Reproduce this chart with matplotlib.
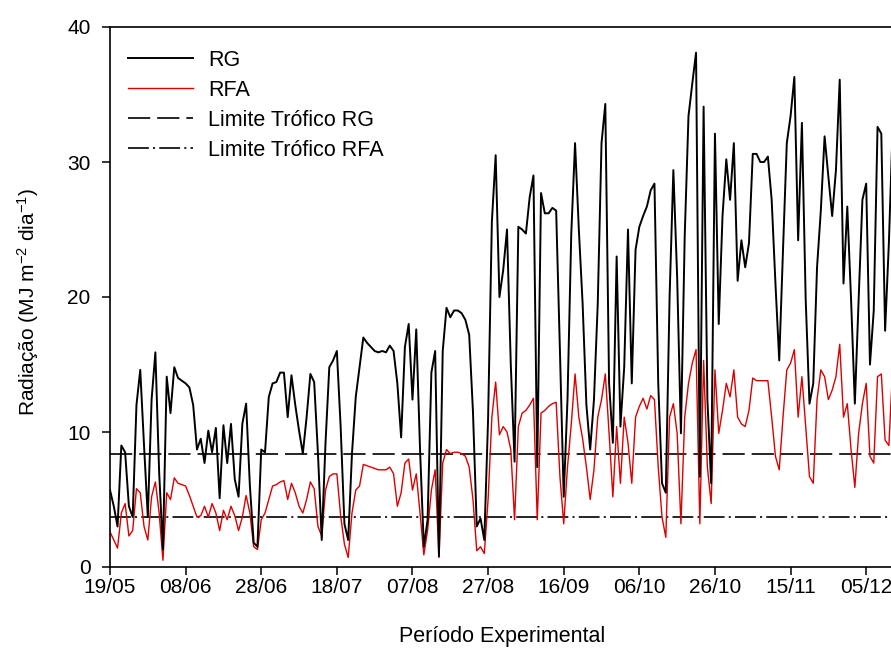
import matplotlib

matplotlib.use("Agg")
import matplotlib.pyplot as plt
import numpy as np

# daily values, day 0 = 19/05
rg = [
    5.7, 4.5, 3.0, 9.0, 8.5, 4.5, 3.7, 12.0, 14.6, 9.0,
    3.7, 12.4, 15.9, 7.0, 1.3, 14.1, 11.4, 14.8, 14.0, 13.8,
    13.6, 13.3, 12.0, 8.7, 9.5, 7.7, 10.1, 8.5, 10.3, 5.1,
    10.5, 7.7, 10.6, 6.5, 5.2, 10.6, 12.1, 6.0, 1.8, 1.5,
    8.7, 8.5, 12.6, 13.6, 13.7, 14.4, 14.4, 11.1, 14.2, 12.0,
    10.1, 8.4, 11.1, 14.3, 13.7, 8.4, 2.0, 9.2, 14.8, 15.3,
    16.0, 10.4, 3.2, 2.0, 8.4, 12.6, 14.8, 17.0, 16.6, 16.3,
    16.0, 15.9, 16.0, 15.9, 16.4, 16.0, 13.6, 9.6, 16.3, 18.0,
    12.4, 17.6, 8.7, 1.5, 3.5, 14.4, 16.0, 0.8, 16.0, 19.2,
    18.5, 19.0, 19.0, 18.8, 18.3, 17.2, 11.5, 3.0, 3.6, 2.0,
    11.0, 25.6, 30.5, 20.0, 22.0, 25.0, 15.0, 7.8, 25.2, 25.0,
    24.7, 27.4, 29.0, 7.4, 27.7, 26.2, 26.2, 26.6, 26.4, 16.0,
    5.2, 12.4, 24.7, 31.4, 25.0, 19.5, 12.0, 8.7, 12.4, 19.5,
    31.4, 34.3, 13.6, 9.2, 23.0, 10.4, 14.8, 25.0, 13.6, 23.5,
    25.2, 26.0, 26.7, 27.9, 28.4, 13.6, 6.2, 5.5, 20.0, 29.4,
    21.5, 9.9, 24.5, 33.4, 35.8, 38.1, 6.7, 34.1, 12.4, 6.2,
    32.1, 18.0, 26.0, 30.2, 27.2, 31.4, 21.2, 24.2, 22.2, 24.0,
    30.6, 30.6, 30.0, 30.0, 30.4, 27.2, 21.0, 15.3, 23.5, 31.4,
    33.4, 36.3, 24.2, 32.9, 19.8, 12.1, 13.6, 22.2, 26.4, 31.9,
    28.9, 26.0, 29.4, 36.1, 21.0, 26.7, 19.8, 12.1, 19.8, 27.2,
    28.4, 15.0, 19.0, 32.6, 32.1, 17.5, 24.0, 32.6,
]
rfa = [
    2.6, 2.0, 1.4, 4.0, 4.7, 2.3, 2.7, 5.8, 5.5, 3.0,
    2.0, 5.2, 6.3, 4.0, 0.5, 5.5, 5.0, 6.6, 6.2, 6.1,
    6.0, 5.3, 4.5, 3.7, 3.8, 4.5, 3.7, 4.7, 4.0, 2.7,
    4.2, 3.5, 4.5, 3.8, 2.7, 3.7, 5.3, 4.0, 1.5, 1.3,
    3.5, 4.0, 5.0, 6.0, 6.1, 6.3, 6.4, 5.0, 6.2, 5.5,
    4.5, 4.0, 5.0, 6.3, 5.8, 3.0, 2.3, 5.7, 6.7, 6.9,
    6.9, 3.8, 1.7, 0.7, 4.0, 5.7, 6.0, 7.6, 7.5, 7.4,
    7.3, 7.2, 7.2, 7.2, 7.4, 6.9, 4.5, 5.5, 7.7, 8.0,
    5.7, 6.9, 4.0, 0.9, 2.7, 5.7, 7.2, 0.7, 7.7, 8.7,
    8.4, 8.5, 8.5, 8.4, 8.2, 7.4, 5.0, 1.2, 1.5, 1.0,
    5.0, 11.1, 13.7, 9.8, 10.4, 10.0, 8.7, 3.5, 10.4, 11.4,
    11.6, 12.0, 12.5, 3.5, 11.4, 11.6, 11.9, 12.1, 12.2, 6.7,
    3.2, 7.4, 10.6, 14.3, 11.1, 9.5, 7.4, 5.0, 7.2, 11.1,
    12.4, 14.3, 9.9, 5.2, 10.4, 6.2, 11.1, 9.2, 6.2, 11.1,
    11.9, 12.5, 11.7, 12.7, 12.4, 7.4, 3.7, 2.2, 11.1, 12.1,
    9.9, 3.2, 11.1, 13.6, 15.1, 16.1, 3.2, 15.3, 7.4, 4.7,
    14.6, 9.9, 11.6, 13.6, 12.6, 14.6, 11.1, 10.6, 10.4, 11.6,
    14.0, 13.8, 13.8, 13.8, 13.8, 11.1, 8.2, 7.2, 11.1, 14.6,
    15.1, 16.1, 11.1, 14.1, 10.4, 6.7, 6.2, 12.4, 14.6, 14.1,
    12.4, 13.1, 14.1, 16.5, 11.1, 12.1, 8.7, 5.9, 9.9, 12.1,
    13.6, 8.2, 7.7, 14.1, 14.3, 9.4, 9.0, 14.8,
]
limite_rg = 8.4
limite_rfa = 3.7

tick_days = [0, 20, 40, 60, 80, 100, 120, 140, 160, 180, 200]
tick_labels = ["19/05", "08/06", "28/06", "18/07", "07/08", "27/08",
               "16/09", "06/10", "26/10", "15/11", "05/12"]

plt.rcParams["font.family"] = ["Liberation Sans", "DejaVu Sans"]
plt.rcParams["mathtext.fontset"] = "custom"
plt.rcParams["mathtext.rm"] = "Liberation Sans"
plt.rcParams["mathtext.it"] = "Liberation Sans:italic"
plt.rcParams["mathtext.default"] = "regular"
plt.rcParams["lines.scale_dashes"] = False

fig = plt.figure(figsize=(8.91, 6.48), dpi=100)
ax = fig.add_axes([110 / 891, 81 / 648, 794 / 891, 540 / 648])

days = np.arange(len(rg))
ax.plot(days, rfa, color="#dd0000", lw=1.0, label="RFA", zorder=2)
ax.plot(days, rg, color="black", lw=1.4, label="RG", zorder=3)
ax.axhline(limite_rg, color="black", lw=1.2, ls=(0, (16, 5)),
           label="Limite Trófico RG", zorder=1)
ax.axhline(limite_rfa, color="black", lw=1.2, ls=(0, (15, 3, 1.5, 3)),
           label="Limite Trófico RFA", zorder=1)

ax.set_xlim(0, 210)
ax.set_ylim(0, 40)
ax.set_yticks([0, 10, 20, 30, 40])
ax.set_xticks(tick_days)
ax.set_xticklabels(tick_labels)
ax.tick_params(direction="out", length=6, width=1.1, labelsize=15,
               colors="black")
ax.tick_params(axis="x", pad=2)
ax.tick_params(axis="y", pad=8)
for s in ax.spines.values():
    s.set_linewidth(1.2)

ax.set_xlabel("Período Experimental", fontsize=15.5)
ax.xaxis.set_label_coords(0.494, -0.11)
ax.set_ylabel(r"Radiação (MJ m$^{-2}$ dia$^{-1}$)", fontsize=15)
ax.yaxis.set_label_coords(-0.087, 0.49)

h, l = ax.get_legend_handles_labels()
order = [1, 0, 2, 3]
ax.legend([h[i] for i in order], [l[i] for i in order], loc="upper left",
          bbox_to_anchor=(0.0227, 0.958), frameon=False, fontsize=15.5,
          handlelength=3.0, handletextpad=0.72, labelspacing=0.42,
          borderpad=0, borderaxespad=0)

fig.savefig("out.png", dpi=100)
